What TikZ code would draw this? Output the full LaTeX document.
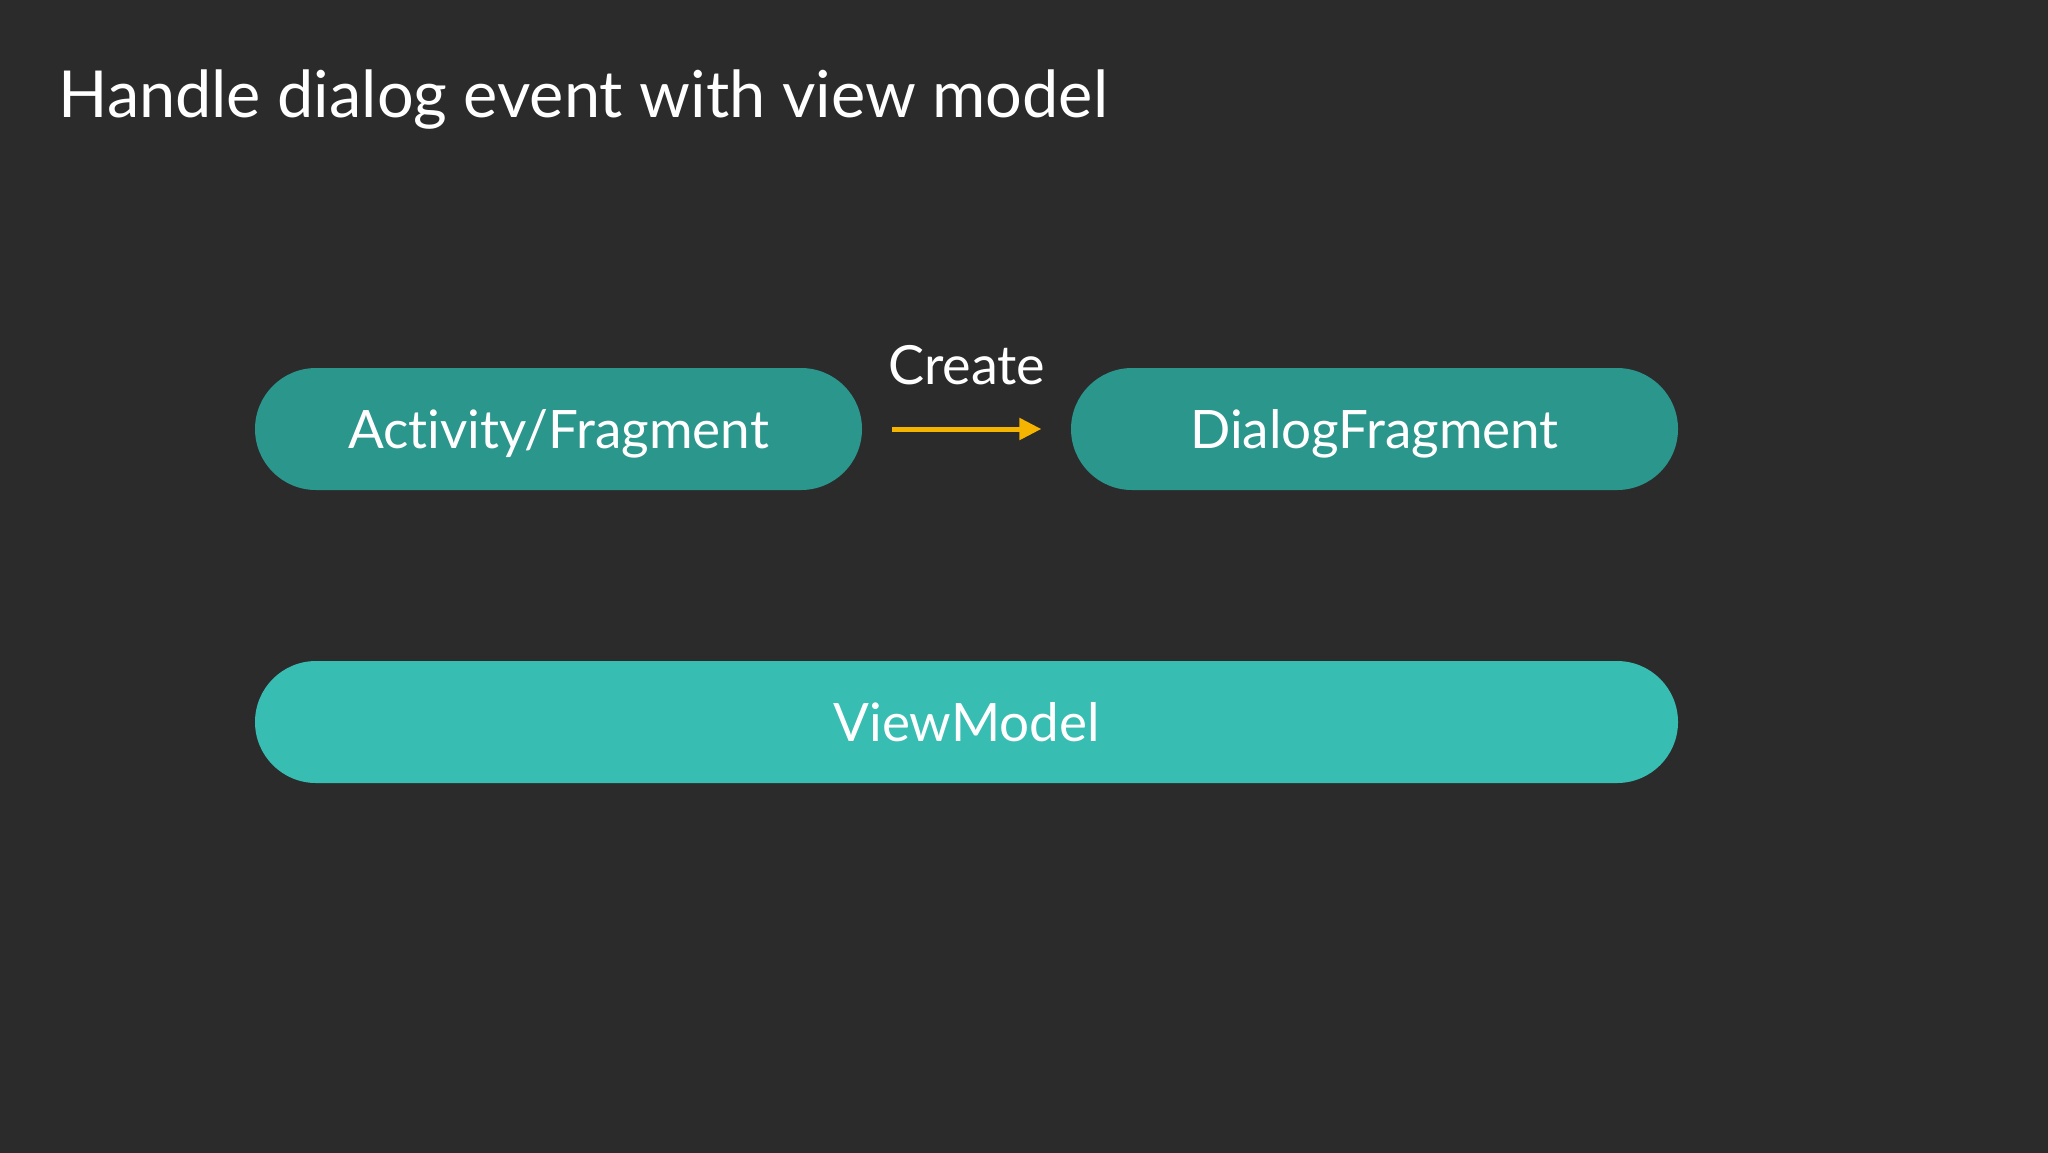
\documentclass[tikz,border=0pt]{standalone}
\usepackage{fontspec}
\setmainfont{Lato}[Ligatures={NoCommon,NoDiscretionary,NoContextual}]
\usetikzlibrary{arrows.meta}
\definecolor{bgc}{HTML}{2B2B2C}
\definecolor{tealdark}{HTML}{2A968C}
\definecolor{teallight}{HTML}{38BDB2}
\definecolor{arrowc}{HTML}{F5B400}
\tikzset{
  pill/.style={fill=#1, draw=none, rounded corners=30.5pt, minimum height=61pt,
    inner sep=0pt, text=white, font=\fontsize{26.5}{30}\selectfont,
    text height=19pt, text depth=0pt},
  txt/.style={text=white, inner sep=0pt},
  createarrow/.style={draw=arrowc, line width=2.5pt, -{Triangle[length=11pt,width=10.5pt]},
    shorten <=14.8pt, shorten >=14.6pt}
}
\begin{document}
\begin{tikzpicture}[x=0.5pt,y=-0.5pt]
\useasboundingbox (0,0) rectangle (2048,1152);
\fill[bgc] (-10,-10) rectangle (2058,1162);
\node[txt, anchor=base west, font=\fontsize{32.4}{38}\selectfont] (title) at (58,117) {Handle dialog event with view model};
\node[pill=tealdark, minimum width=303.5pt] (act) at (558.5,429) {Activity/Fragment};
\node[pill=tealdark, minimum width=303.5pt] (dlg) at (1374.5,429) {DialogFragment};
\node[pill=teallight, minimum width=711.5pt] (vm) at (966.5,722) {ViewModel};
\draw[createarrow] (act.east) -- (dlg.west);
\node[txt, anchor=base, font=\fontsize{27}{30}\selectfont] (create) at (966.7,384) {Create};
\end{tikzpicture}
\end{document}
